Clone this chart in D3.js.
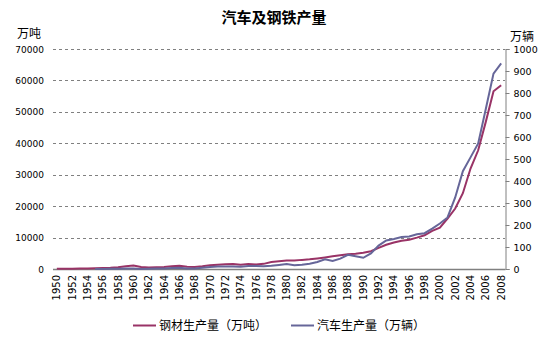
<!DOCTYPE html>
<html><head><meta charset="utf-8">
<script src="https://cdn.jsdelivr.net/npm/d3@7"></script>
<style>body{margin:0;background:#fff}svg{display:block}</style>
</head><body>
<svg id="c" width="554" height="353"></svg>
<script>
const years = d3.range(1950, 2009);
const steel = [46,81,106,147,196,250,314,415,590,897,1111,613,455,541,660,894,1070,752,633,880,1189,1368,1542,1584,1381,1622,1466,1633,2208,2497,2716,2670,2902,3072,3372,3693,4058,4386,4689,4859,5153,5638,6697,7716,8428,8980,9338,9979,10738,12110,13146,16068,19252,24108,31976,37771,46893,56561,58488];
const carYears = d3.range(1955, 2009);
const cars = [0.01,0.17,0.79,1.6,1.95,2.26,0.36,0.97,2.09,2.81,4.05,5.59,2.05,2.51,5.31,8.72,11.1,10.82,11.62,10.48,13.98,13.52,12.54,14.91,18.57,22.23,17.56,19.63,23.98,31.64,44.37,36.98,47.18,64.47,58.35,50.9,70.9,106.2,129.7,136.7,145.3,147.5,158.3,162.8,183.2,207.0,234.2,325.1,444.4,507.4,570.5,728.0,888.2,934.5];
const leftTicks = [0,10000,20000,30000,40000,50000,60000,70000];
const rightTicks = [0,100,200,300,400,500,600,700,800,900,1000];
const labelYears = years.filter(y => y % 2 === 0);

const svg = d3.select("#c");
const L = 53, R = 505, T = 49, B = 269;
const x = d3.scaleBand().domain(years).range([L, R]);
const xc = d => x(d) + x.bandwidth() / 2;
const yL = d3.scaleLinear().domain([0, 70000]).range([B, T]);
const yR = d3.scaleLinear().domain([0, 1000]).range([B, T]);
const numFont = "DejaVu Sans, sans-serif";
const cjk = "'Noto Sans CJK SC', sans-serif";

// gridlines
svg.append("g").selectAll("line").data(leftTicks.filter(d => d > 0)).join("line")
  .attr("x1", L).attr("x2", R).attr("y1", d => Math.round(yL(d)) + 0.5).attr("y2", d => Math.round(yL(d)) + 0.5)
  .attr("stroke", "#808080").attr("stroke-dasharray", "3,3");

// left labels
svg.append("g").selectAll("text").data(leftTicks).join("text")
  .attr("x", 44).attr("y", d => yL(d) + 3.5).attr("text-anchor", "end")
  .attr("font-family", numFont).attr("font-size", 9).attr("fill", "#000").text(d => d);

// right axis
const ra = svg.append("g").attr("transform", `translate(${R + 0.5},0)`)
  .call(d3.axisRight(yR).tickValues(rightTicks).tickSize(4).tickPadding(4).tickFormat(d3.format("d")));
ra.select(".domain").attr("stroke", "#808080");
ra.selectAll(".tick line").attr("stroke", "#808080");
ra.selectAll(".tick text").attr("font-family", numFont).attr("font-size", 9.5).attr("fill", "#000");

// x axis line
svg.append("line").attr("x1", L).attr("x2", R + 0.5).attr("y1", B + 0.5).attr("y2", B + 0.5).attr("stroke", "#808080").attr("stroke-width", 1.3);

// x labels
svg.append("g").selectAll("text").data(labelYears).join("text")
  .attr("transform", d => `translate(${xc(d) + 3.5},${B + 6}) rotate(-90)`)
  .attr("text-anchor", "end").attr("font-family", numFont).attr("font-size", 10).attr("fill", "#000").text(d => d);

// lines
const steelLine = d3.line().x((d, i) => xc(years[i])).y(d => yL(d));
const carLine = d3.line().x((d, i) => xc(carYears[i])).y(d => yR(d));
svg.append("path").datum(steel).attr("d", steelLine).attr("fill", "none").attr("stroke", "#993366").attr("stroke-width", 2);
svg.append("path").datum(cars).attr("d", carLine).attr("fill", "none").attr("stroke", "#666699").attr("stroke-width", 2);

// titles
svg.append("text").attr("x", 274).attr("y", 23).attr("text-anchor", "middle")
  .attr("font-family", cjk).attr("font-size", 15).attr("font-weight", "bold").text("汽车及钢铁产量");
svg.append("text").attr("x", 17).attr("y", 38).attr("font-family", cjk).attr("font-size", 12).text("万吨");
svg.append("text").attr("x", 510).attr("y", 41).attr("font-family", cjk).attr("font-size", 12).text("万辆");

// legend
const legend = [{name: "钢材生产量（万吨）", color: "#993366", x: 133}, {name: "汽车生产量（万辆）", color: "#666699", x: 291}];
const lg = svg.append("g").selectAll("g").data(legend).join("g").attr("transform", d => `translate(${d.x},325)`);
lg.append("line").attr("x1", 0).attr("x2", 23).attr("y1", 0.5).attr("y2", 0.5).attr("stroke", d => d.color).attr("stroke-width", 2);
lg.append("text").attr("x", 26).attr("y", 5).attr("font-family", cjk).attr("font-size", 12).text(d => d.name);
</script>
</body></html>
